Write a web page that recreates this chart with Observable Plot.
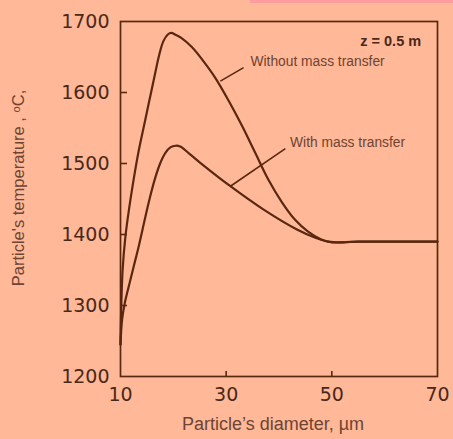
<!DOCTYPE html>
<html>
<head>
<meta charset="utf-8">
<script src="https://cdn.jsdelivr.net/npm/d3@7"></script>
<script src="https://cdn.jsdelivr.net/npm/@observablehq/plot@0.6"></script>
<style>
  html, body { margin: 0; padding: 0; background: #FFB898; }
  #wrap { position: relative; width: 453px; height: 439px; overflow: hidden; }
  #strip { position: absolute; left: 250px; top: 0; width: 203px; height: 3px; background: #FF9CA0; }
</style>
</head>
<body>
<div id="wrap"><div id="strip"></div></div>
<script>
// Particle diameter (µm) and temperature (°C)
const withoutX = [10, 10.15, 10.4, 10.9, 11.6, 12.5, 13.5, 14.5, 15.5, 16.5, 17.3, 18.1, 19.0, 19.6, 20.5, 21.5, 23.5, 25.5, 28, 30.5, 33, 35.5, 38, 40.5, 43, 45.5, 48, 50, 52, 55, 60, 65, 70];
const withoutY = [1245, 1300, 1350, 1395, 1435, 1478, 1520, 1555, 1590, 1625, 1652, 1672, 1682, 1684, 1681, 1677, 1664, 1646, 1620, 1588, 1553, 1515, 1477, 1446, 1421, 1404, 1393, 1389, 1389, 1390, 1390, 1390, 1390];
const withX = [10, 10.3, 10.8, 11.5, 12.5, 13.5, 14.5, 15.5, 16.5, 17.5, 18.5, 19.5, 20.4, 21.3, 23, 25.1, 30.8, 37.1, 43.4, 47.0, 49.3, 52, 55, 60, 65, 70];
const withY = [1245, 1280, 1303, 1325, 1355, 1385, 1418, 1450, 1478, 1500, 1515, 1523, 1525, 1524, 1514, 1501, 1468, 1435, 1407, 1395, 1390, 1389, 1390, 1390, 1390, 1390];

const xTicks = [10, 30, 50, 70];
const yTicks = [1200, 1300, 1400, 1500, 1600, 1700];
const yInnerTicks = [1300, 1400, 1500, 1600];
const xInnerTicks = [30, 50];

const annText = ["z = 0.5 m", "Without mass transfer", "With mass transfer"];
const annX = [66.9, 34.6, 42.1];
const annY = [1672, 1644, 1530];
const leaderX1 = [28.9, 30.8];
const leaderY1 = [1616, 1468];
const leaderX2 = [33.3, 41.2];
const leaderY2 = [1635, 1521];

const xLabel = "Particle’s diameter, µm";
const yLabel = "Particle's temperature , ᵒC,";

const ink = "#5A2810";
const textInk = "#6E4432";

const seriesWithout = withoutX.map((x, i) => ({x, y: withoutY[i]}));
const seriesWith = withX.map((x, i) => ({x, y: withY[i]}));
const leaders = leaderX1.map((x, i) => ({x1: x, y1: leaderY1[i], x2: leaderX2[i], y2: leaderY2[i]}));
const anns = annText.map((t, i) => ({t, x: annX[i], y: annY[i], bold: i === 0}));

const W = 453, H = 439, ML = 120, MR = 16, MT = 21, MB = 63;
const frameW = W - ML - MR, frameH = H - MT - MB;

const chart = Plot.plot({
  width: W,
  height: H,
  marginLeft: ML,
  marginRight: MR,
  marginTop: MT,
  marginBottom: MB,
  style: {background: "transparent", fontFamily: "Liberation Sans, Arial, sans-serif", color: ink},
  x: {domain: [10, 70]},
  y: {domain: [1200, 1700]},
  marks: [
    Plot.tickY(yInnerTicks, {y: d => d, insetRight: frameW - 7, stroke: ink, strokeWidth: 1.6}),
    Plot.tickX(xInnerTicks, {x: d => d, insetTop: frameH - 5, stroke: ink, strokeWidth: 1.6}),
    Plot.frame({stroke: ink, strokeWidth: 1.7}),
    Plot.axisY(yTicks, {anchor: "left", tickSize: 0, tickPadding: 11, label: null, tickFormat: d => String(d), fontSize: 19, fontFamily: "DejaVu Sans", fill: "#4A2818"}),
    Plot.axisX(xTicks, {anchor: "bottom", tickSize: 0, tickPadding: 11, label: null, tickFormat: d => String(d), fontSize: 19, fontFamily: "DejaVu Sans", fill: "#4A2818"}),
    Plot.text([xLabel], {frameAnchor: "bottom", dx: -6, dy: 53, fontSize: 18, fill: textInk}),
    Plot.text([yLabel], {frameAnchor: "left", textAnchor: "middle", dx: -102, dy: -11, rotate: -90, fontSize: 16.5, fill: textInk}),
    Plot.line(seriesWithout, {x: "x", y: "y", stroke: ink, strokeWidth: 2.2, curve: "catmull-rom"}),
    Plot.line(seriesWith, {x: "x", y: "y", stroke: ink, strokeWidth: 2.2, curve: "catmull-rom"}),
    Plot.link(leaders, {x1: "x1", y1: "y1", x2: "x2", y2: "y2", stroke: ink, strokeWidth: 1.6}),
    Plot.text(anns.filter(d => !d.bold), {x: "x", y: "y", text: "t", textAnchor: "start", fontSize: 13.8, fill: textInk}),
    Plot.text(anns.filter(d => d.bold), {x: "x", y: "y", text: "t", textAnchor: "end", fontSize: 14.5, fontWeight: "bold", fill: "#4A2818"})
  ]
});
document.getElementById("wrap").appendChild(chart);
</script>
</body>
</html>
